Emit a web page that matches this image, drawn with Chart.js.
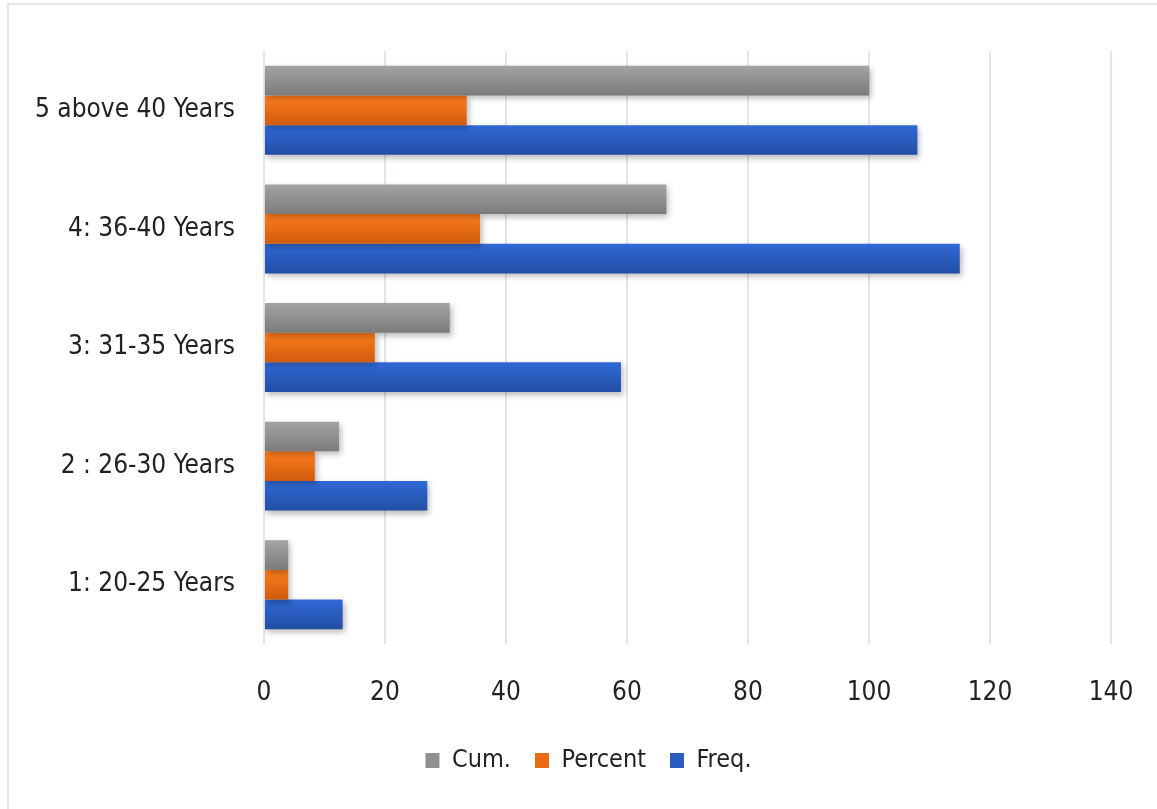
<!DOCTYPE html>
<html>
<head>
<meta charset="utf-8">
<script src="https://cdn.jsdelivr.net/npm/chart.js@4"></script>
<style>
  html, body { margin: 0; padding: 0; background: #fff; }
  #wrap { position: relative; width: 1157px; height: 809px; }
  #frame { position: absolute; left: 7px; top: 3px; width: 1160px; height: 815px;
           border: 2px solid #e2e6ec; box-sizing: border-box; }
  canvas { position: absolute; left: 0; top: 0; }
</style>
</head>
<body>
<div id="wrap">
  <div id="frame"></div>
  <canvas id="age-chart" width="1157" height="809"></canvas>
</div>
<script>
// Age groups — top row first, as in the picture
const CATEGORIES = ['5 above 40 Years', '4: 36-40 Years', '3: 31-35 Years', '2 : 26-30 Years', '1: 20-25 Years'];
const CUM     = [100, 66.5, 30.7, 12.4, 4.0];
const PERCENT = [33.5, 35.7, 18.3, 8.4, 4.0];
const FREQ    = [108, 115, 59, 27, 13];
const X_TICKS = [0, 20, 40, 60, 80, 100, 120, 140];

const CAT_PCT = 0.75;
const LEGEND_SHIFT = 28; // legend sits a bit right of the canvas centre

// top / bottom colours of each bar gradient (+ flat colour for the legend)
const SHADES = {
  cum:     ['#a4a4a4', '#7b7b7b', '#8f8f8f'],
  percent: ['#ff7d1e', '#cf5b0c', '#ec6a14'],
  freq:    ['#3069d6', '#234ea4', '#2a5cc0'],
};

const LABEL_FONT = "'DejaVu Sans Condensed', 'DejaVu Sans', sans-serif";

function barGradient(shade) {
  return (ctx) => {
    const chart = ctx.chart;
    const y = chart.scales && chart.scales.y;
    if (!chart.chartArea || !y || ctx.dataIndex === undefined) return shade[2];
    const band = Math.abs(y.getPixelForValue(1) - y.getPixelForValue(0));
    const groupH = band * CAT_PCT;
    const barH = groupH / 3;
    const top = y.getPixelForValue(ctx.dataIndex) - groupH / 2 + ctx.datasetIndex * barH;
    const g = chart.ctx.createLinearGradient(0, top, 0, top + barH);
    g.addColorStop(0, shade[0]);
    g.addColorStop(1, shade[1]);
    return g;
  };
}

// soft drop shadow under the bars
const barShadow = {
  id: 'barShadow',
  beforeDatasetsDraw(chart) {
    const c = chart.ctx;
    c.save();
    c.shadowColor = 'rgba(0,0,0,0.28)';
    c.shadowBlur = 6;
    c.shadowOffsetX = 2;
    c.shadowOffsetY = 3;
  },
  afterDatasetsDraw(chart) {
    chart.ctx.restore();
  },
};

const legendNudge = {
  id: 'legendNudge',
  afterLayout(chart) {
    chart.legend.left += LEGEND_SHIFT;
    chart.legend.right += LEGEND_SHIFT;
  },
};

new Chart(document.getElementById('age-chart'), {
  type: 'bar',
  data: {
    labels: CATEGORIES,
    datasets: [
      { label: 'Cum.',    data: CUM,     backgroundColor: barGradient(SHADES.cum) },
      { label: 'Percent', data: PERCENT, backgroundColor: barGradient(SHADES.percent) },
      { label: 'Freq.',   data: FREQ,    backgroundColor: barGradient(SHADES.freq) },
    ],
  },
  options: {
    indexAxis: 'y',
    responsive: false,
    animation: false,
    categoryPercentage: CAT_PCT,
    barPercentage: 1.0,
    layout: { padding: { top: 51, left: 10, right: 46, bottom: 26 } },
    plugins: {
      tooltip: { enabled: false },
      legend: {
        position: 'bottom',
        labels: {
          boxWidth: 14,
          boxHeight: 15,
          padding: 24,
          color: '#222',
          font: { family: LABEL_FONT, size: 25 },
          generateLabels: (chart) => chart.data.datasets.map((ds, i) => ({
            text: ds.label,
            fillStyle: SHADES[['cum', 'percent', 'freq'][i]][2],
            strokeStyle: 'rgba(0,0,0,0)',
            lineWidth: 0,
            fontColor: '#222',
            datasetIndex: i,
          })),
        },
      },
    },
    scales: {
      x: {
        min: 0,
        max: 140,
        afterBuildTicks: (scale) => { scale.ticks = X_TICKS.map(v => ({ value: v })); },
        afterFit: (scale) => {
          scale.height = 80;
          scale.paddingLeft = 0;
          scale.paddingRight = 0;
        },
        border: { display: false },
        grid: { color: '#e1e5ec', lineWidth: 2, drawTicks: false },
        ticks: {
          padding: 34,
          color: '#222',
          font: { family: LABEL_FONT, size: 26 },
          maxRotation: 0,
        },
      },
      y: {
        afterFit: (scale) => { scale.width = 254; },
        border: { display: false },
        grid: { display: false, drawTicks: false },
        ticks: {
          padding: 29,
          color: '#222',
          font: { family: LABEL_FONT, size: 26 },
        },
      },
    },
  },
  plugins: [barShadow, legendNudge],
});
</script>
</body>
</html>
